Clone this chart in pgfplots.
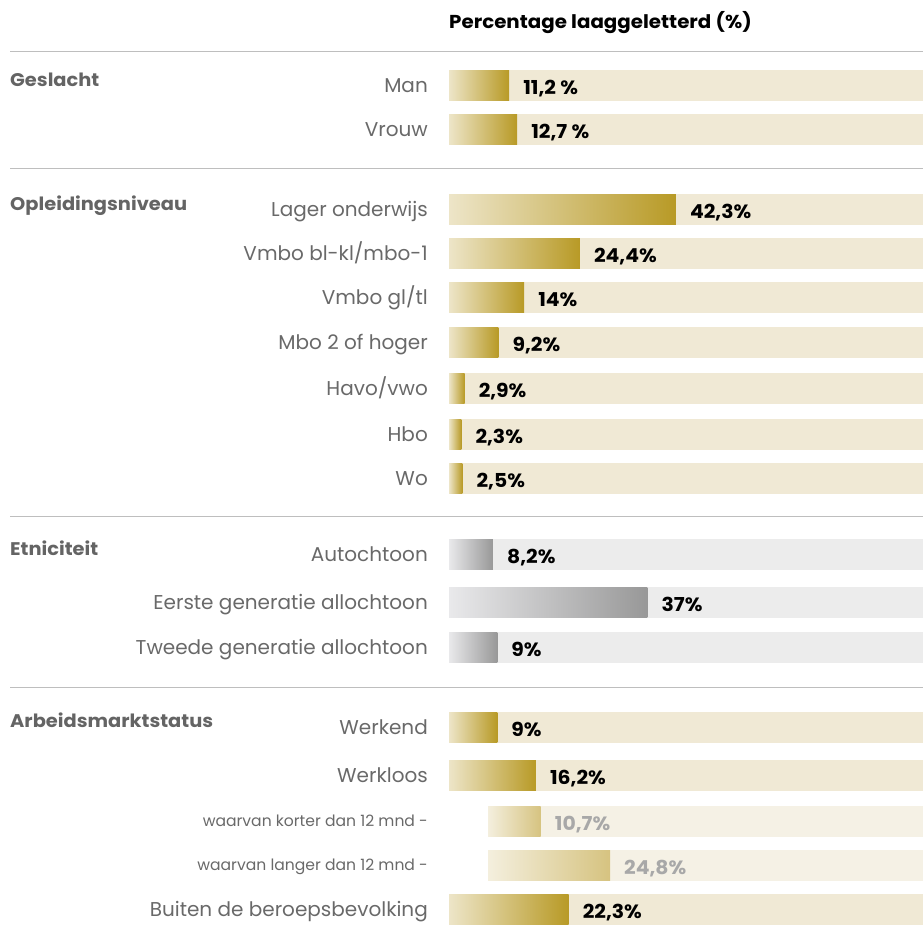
\documentclass[border=0pt]{standalone}
\usepackage{fontspec}
\setmainfont{Poppins}[BoldFeatures={FakeStretch=1.06}]
\usepackage{pgfplots}
\pgfplotsset{compat=1.18}

\definecolor{goldlight}{RGB}{237,229,200}
\definecolor{golddark}{RGB}{184,154,38}
\definecolor{goldbg}{RGB}{240,233,213}
\definecolor{graylight}{RGB}{233,233,235}
\definecolor{graydark}{RGB}{152,152,152}
\definecolor{graybg}{RGB}{236,236,236}
\definecolor{subbg}{RGB}{245,241,229}
\definecolor{sublight}{RGB}{244,239,222}
\definecolor{subdark}{RGB}{214,195,128}
\definecolor{subtext}{RGB}{168,168,168}
\definecolor{labgray}{RGB}{105,105,105}
\definecolor{grpgray}{RGB}{100,100,100}
\definecolor{sepgray}{RGB}{190,190,190}

\tikzset{
  barbase/.style={xbar, bar width=30.7pt, bar shift=0pt, draw=none},
  bg/.style={barbase, fill=#1},
  grad/.style 2 args={barbase, left color=#1, right color=#2},
  lab/.style={anchor=base east, inner sep=0pt, text=labgray, font=\fontsize{20}{22}\selectfont},
  sublab/.style={anchor=base east, inner sep=0pt, text=labgray, font=\fontsize{15.6}{17}\selectfont},
  grp/.style={anchor=base west, inner sep=0pt, text=grpgray, font=\bfseries\fontsize{18.3}{20}\selectfont},
  val/.style={anchor=base west, inner sep=0pt, xshift=14pt, yshift=-9pt, text=black, font=\bfseries\fontsize{19.2}{21}\selectfont},
  subval/.style={val, text=subtext},
}

\begin{document}
\begin{tikzpicture}
\path[use as bounding box] (0,0) rectangle (923pt,-951pt);

% main bars: x in percent, y in pixels from the top
\begin{axis}[
  at={(449pt,0pt)}, anchor=north west,
  scale only axis, width=474pt, height=951pt,
  xmin=0, xmax=88.4, ymin=0, ymax=951, y dir=reverse,
  hide axis, clip=false,
]
% backgrounds
\addplot[bg=goldbg] coordinates {(88.4,85.4) (88.4,129.4) (88.4,209.4) (88.4,253.4) (88.4,297.4)
  (88.4,342.4) (88.4,388.4) (88.4,434.4) (88.4,478.4) (88.4,727.4) (88.4,775.4) (88.4,909.4)};
\addplot[bg=graybg] coordinates {(88.4,554.4) (88.4,602.4) (88.4,647.4)};

% Geslacht
\addplot[grad={goldlight}{golddark}] coordinates {(11.2,85.4)};
\addplot[grad={goldlight}{golddark}] coordinates {(12.7,129.4)};
% Opleidingsniveau
\addplot[grad={goldlight}{golddark}] coordinates {(42.3,209.4)};
\addplot[grad={goldlight}{golddark}] coordinates {(24.4,253.4)};
\addplot[grad={goldlight}{golddark}] coordinates {(14,297.4)};
\addplot[grad={goldlight}{golddark}] coordinates {(9.2,342.4)};
\addplot[grad={goldlight}{golddark}] coordinates {(2.9,388.4)};
\addplot[grad={goldlight}{golddark}] coordinates {(2.3,434.4)};
\addplot[grad={goldlight}{golddark}] coordinates {(2.5,478.4)};
% Etniciteit
\addplot[grad={graylight}{graydark}] coordinates {(8.2,554.4)};
\addplot[grad={graylight}{graydark}] coordinates {(37,602.4)};
\addplot[grad={graylight}{graydark}] coordinates {(9,647.4)};
% Arbeidsmarktstatus
\addplot[grad={goldlight}{golddark}] coordinates {(9,727.4)};
\addplot[grad={goldlight}{golddark}] coordinates {(16.2,775.4)};
\addplot[grad={goldlight}{golddark}] coordinates {(22.3,909.4)};

\node[val] at (axis cs:11.2,85.4) {11,2 \%};
\node[val] at (axis cs:12.7,129.4) {12,7 \%};
\node[val] at (axis cs:42.3,209.4) {42,3\%};
\node[val] at (axis cs:24.4,253.4) {24,4\%};
\node[val] at (axis cs:14,297.4) {14\%};
\node[val] at (axis cs:9.2,342.4) {9,2\%};
\node[val] at (axis cs:2.9,388.4) {2,9\%};
\node[val] at (axis cs:2.3,434.4) {2,3\%};
\node[val] at (axis cs:2.5,478.4) {2,5\%};
\node[val] at (axis cs:8.2,554.4) {8,2\%};
\node[val] at (axis cs:37,602.4) {37\%};
\node[val] at (axis cs:9,647.4) {9\%};
\node[val] at (axis cs:9,727.4) {9\%};
\node[val] at (axis cs:16.2,775.4) {16,2\%};
\node[val] at (axis cs:22.3,909.4) {22,3\%};
\end{axis}

% sub rows of Werkloos, on a narrower scale
\begin{axis}[
  at={(488pt,0pt)}, anchor=north west,
  scale only axis, width=435pt, height=951pt,
  xmin=0, xmax=88.4, ymin=0, ymax=951, y dir=reverse,
  hide axis, clip=false,
]
\addplot[bg=subbg] coordinates {(88.4,821.4) (88.4,865.4)};
\addplot[grad={sublight}{subdark}] coordinates {(10.7,821.4)};
\addplot[grad={sublight}{subdark}] coordinates {(24.8,865.4)};
\node[subval] at (axis cs:10.7,821.4) {10,7\%};
\node[subval] at (axis cs:24.8,865.4) {24,8\%};
\end{axis}

% title and separators
\node[anchor=base west, inner sep=0pt, font=\bfseries\fontsize{18.7}{20}\selectfont] at (449pt,-28.3pt) {Percentage laaggeletterd (\%)};
\foreach \y in {51.7,168.3,516.7,687.7}
  \draw[sepgray, line width=1.5pt] (10pt,-\y pt) -- (923pt,-\y pt);

% group labels
\node[grp] at (10pt,-86.5pt) {Geslacht};
\node[grp] at (10pt,-210.5pt) {Opleidingsniveau};
\node[grp] at (10pt,-555.5pt) {Etniciteit};
\node[grp] at (10pt,-727.5pt) {Arbeidsmarktstatus};

% row labels
\node[lab] at (428pt,-92.2pt) {Man};
\node[lab] at (428pt,-136.2pt) {Vrouw};
\node[lab] at (428pt,-216.2pt) {Lager onderwijs};
\node[lab] at (428pt,-260.2pt) {Vmbo bl-kl/mbo-1};
\node[lab] at (428pt,-304.2pt) {Vmbo gl/tl};
\node[lab] at (428pt,-349.2pt) {Mbo 2 of hoger};
\node[lab] at (428pt,-395.2pt) {Havo/vwo};
\node[lab] at (428pt,-441.2pt) {Hbo};
\node[lab] at (428pt,-485.2pt) {Wo};
\node[lab] at (428pt,-561.2pt) {Autochtoon};
\node[lab] at (428pt,-609.2pt) {Eerste generatie allochtoon};
\node[lab] at (428pt,-654.2pt) {Tweede generatie allochtoon};
\node[lab] at (428pt,-734.2pt) {Werkend};
\node[lab] at (428pt,-782.2pt) {Werkloos};
\node[sublab] at (428pt,-826.7pt) {waarvan korter dan 12 mnd -};
\node[sublab] at (428pt,-870.7pt) {waarvan langer dan 12 mnd -};
\node[lab] at (428pt,-916.2pt) {Buiten de beroepsbevolking};
\end{tikzpicture}
\end{document}
